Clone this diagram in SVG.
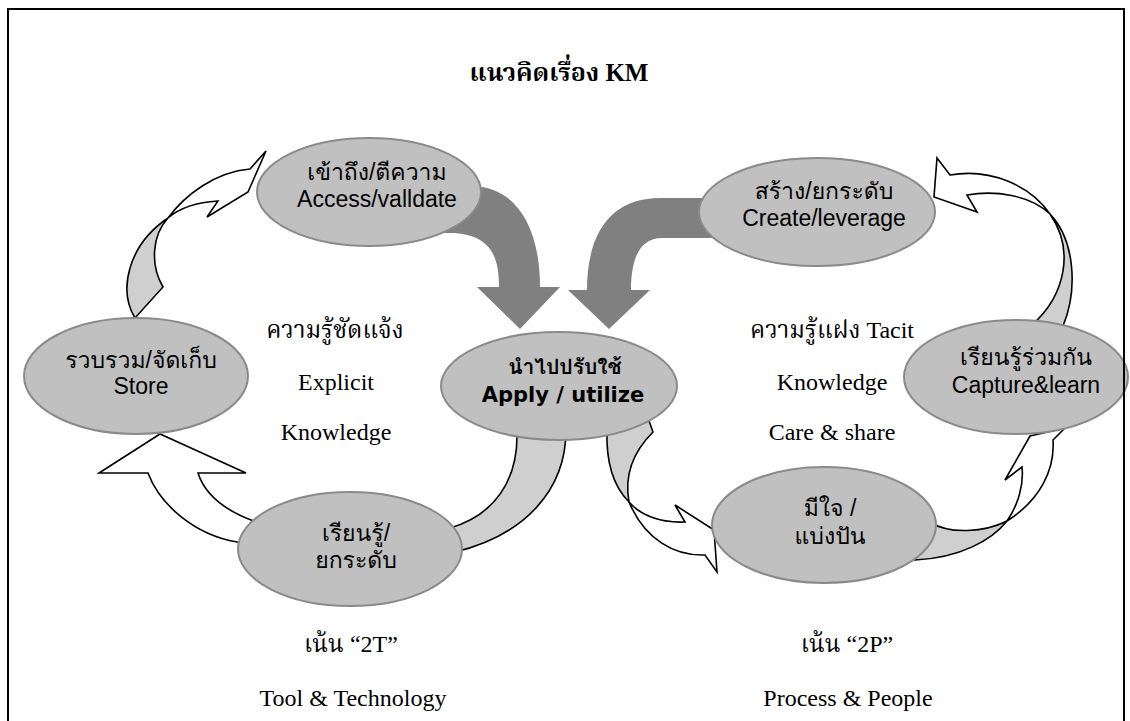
<svg xmlns="http://www.w3.org/2000/svg" width="1130" height="721" viewBox="0 0 1130 721">
  <style>
    .page { fill: #ffffff; stroke: none; }
    .frame { fill: none; stroke: #000000; stroke-width: 2; }
    .node { fill: #c0c0c0; stroke: #8a8a8a; stroke-width: 2; }
    .flow { fill: #808080; stroke: none; }
    .back { fill: #cfcfcf; stroke: #000000; stroke-width: 1.6; stroke-linejoin: miter; }
    .front { fill: #ffffff; stroke: #000000; stroke-width: 1.6; stroke-linejoin: miter; }
    .lbl { font-family: 'Liberation Sans', 'Tahoma', 'Loma', 'Garuda', 'Noto Sans Thai Looped', 'Noto Sans Thai', sans-serif; font-size: 23px; fill: #000000; text-anchor: middle; }
    .lbl-b { font-family: 'DejaVu Sans', 'Tahoma', 'Loma', 'Garuda', 'Noto Sans Thai Looped', 'Noto Sans Thai', sans-serif; font-size: 21px; font-weight: bold; fill: #000000; text-anchor: middle; }
    .note { font-family: 'Liberation Serif', 'Norasi', 'Noto Serif Thai', 'Noto Sans Thai', serif; font-size: 24px; fill: #000000; text-anchor: middle; }
    .title { font-family: 'Liberation Serif', 'Norasi', 'Noto Serif Thai', 'Noto Sans Thai', serif; font-size: 25px; font-weight: bold; fill: #000000; text-anchor: middle; }
  </style>

  <rect class="page" x="0" y="0" width="1130" height="721"/>

  <text class="title" x="559" y="81">แนวคิดเรื่อง KM</text>

  <!-- connectors: drawn first so the ellipses sit on top of their ends -->
  <g id="connectors">
    <!-- heavy flows into the centre -->
    <path id="flow-access-apply" class="flow" d="M 460,186 L 481,187 C 514,191 540,224 540,287 L 560,287 L 520,329 L 477,287 L 499,287 C 499,255 490,236 455,233 L 440,233 Z"/>
    <path id="flow-create-apply" class="flow" d="M 712,198 L 660,198 C 615,198 587,228 587,290 L 568,290 L 609,329 L 650,290 L 631,290 C 631,258 640,238 662,238 L 712,238 Z"/>

    <!-- left loop -->
    <g id="arc-store-access">
      <path class="back" d="M 135,318 C 118,290 128,245 168,218 C 152,235 150,265 163,287 Z"/>
      <path class="front" d="M 168,218 C 185,195 215,172 250,169 L 266,151 L 248,192 L 207,217 L 218,201 C 200,202 182,206 168,218 Z"/>
    </g>
    <path id="arc-learn-store" class="front" d="M 262,548 L 237,542 C 195,535 160,505 148,473 L 99,473 L 160,434 L 246,473 L 198,473 C 205,495 225,512 262,524 Z"/>
    <path id="arc-apply-learn" class="back" d="M 517,430 L 517,436 C 517,480 495,515 450,528 L 455,552 C 525,535 566,490 566,430 Z"/>

    <!-- right loop -->
    <g id="arc-apply-care">
      <path class="back" d="M 607,430 C 606,460 612,485 629,502 C 625,480 630,455 653,432 L 648,418 Z"/>
      <path class="front" d="M 629,502 C 640,515 660,523 685,522 L 675,505 L 714,530 L 717,572 L 705,555 C 675,556 645,540 629,502 Z"/>
    </g>
    <g id="arc-care-capture">
      <path class="back" d="M 930,522 C 950,535 985,532 1007,521 C 992,540 960,558 915,560 Z"/>
      <path class="front" d="M 1007,521 C 1018,505 1024,485 1022,467 L 1005,480 L 1030,436 L 1065,428 L 1053,440 C 1055,470 1040,500 1007,521 Z"/>
    </g>
    <g id="arc-capture-create">
      <path class="back" d="M 1033,324 C 1065,295 1075,250 1050,214 C 1075,240 1078,290 1063,326 Z"/>
      <path class="front" d="M 1050,214 C 1030,185 990,168 950,175 L 937,158 L 934,197 L 977,212 L 967,195 C 995,190 1030,195 1050,214 Z"/>
    </g>
  </g>

  <!-- nodes -->
  <g id="node-access">
    <ellipse class="node" cx="369" cy="192" rx="112" ry="54"/>
    <text class="lbl" x="377" y="180">เข้าถึง/ตีความ</text>
    <text class="lbl" x="377" y="207">Access/valldate</text>
  </g>
  <g id="node-create">
    <ellipse class="node" cx="817" cy="212" rx="118" ry="54"/>
    <text class="lbl" x="824" y="199">สร้าง/ยกระดับ</text>
    <text class="lbl" x="824" y="226">Create/leverage</text>
  </g>
  <g id="node-store">
    <ellipse class="node" cx="136" cy="376" rx="112" ry="58"/>
    <text class="lbl" x="141" y="368">รวบรวม/จัดเก็บ</text>
    <text class="lbl" x="141" y="394">Store</text>
  </g>
  <g id="node-apply">
    <ellipse class="node" cx="559" cy="386" rx="118" ry="54"/>
    <text class="lbl-b" x="565" y="374">นำไปปรับใช้</text>
    <text class="lbl-b" x="563" y="402">Apply / utilize</text>
  </g>
  <g id="node-capture">
    <ellipse class="node" cx="1016" cy="377" rx="112" ry="57"/>
    <text class="lbl" x="1026" y="365">เรียนรู้ร่วมกัน</text>
    <text class="lbl" x="1026" y="393">Capture&amp;learn</text>
  </g>
  <g id="node-learn">
    <ellipse class="node" cx="350" cy="549" rx="112" ry="57"/>
    <text class="lbl" x="356" y="541">เรียนรู้/</text>
    <text class="lbl" x="356" y="568">ยกระดับ</text>
  </g>
  <g id="node-care">
    <ellipse class="node" cx="824" cy="525" rx="112" ry="58"/>
    <text class="lbl" x="830" y="516">มีใจ /</text>
    <text class="lbl" x="830" y="544">แบ่งปัน</text>
  </g>

  <!-- loop captions -->
  <text class="note" x="335" y="338">ความรู้ชัดแจ้ง</text>
  <text class="note" x="336" y="390">Explicit</text>
  <text class="note" x="336" y="440">Knowledge</text>

  <text class="note" x="832" y="338">ความรู้แฝง Tacit</text>
  <text class="note" x="832" y="390">Knowledge</text>
  <text class="note" x="832" y="440">Care &amp; share</text>

  <text class="note" x="351" y="652">เน้น “2T”</text>
  <text class="note" x="353" y="706">Tool &amp; Technology</text>
  <text class="note" x="847" y="652">เน้น “2P”</text>
  <text class="note" x="848" y="706">Process &amp; People</text>

  <!-- page frame, open at the bottom edge, drawn over the right-hand node -->
  <rect class="frame" x="8" y="9" width="1116" height="730"/>
</svg>
